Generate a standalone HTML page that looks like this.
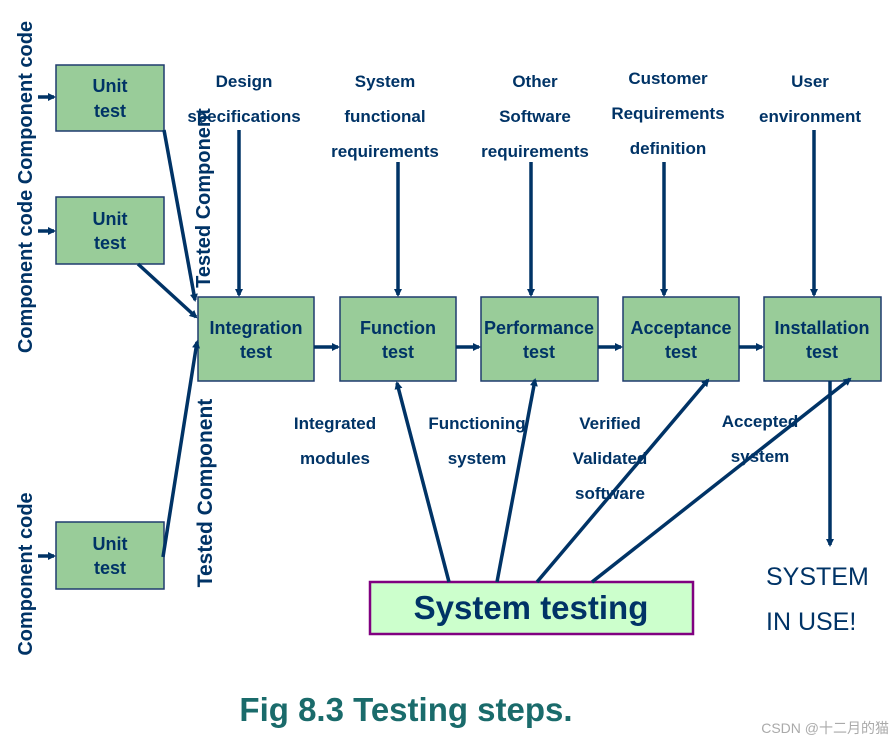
<!DOCTYPE html>
<html><head><meta charset="utf-8"><style>
body{margin:0;background:#fff;}
svg{display:block;font-family:"Liberation Sans",sans-serif;}
</style></head><body>
<svg width="894" height="742" viewBox="0 0 894 742" xmlns="http://www.w3.org/2000/svg">
<defs>
<marker id="a" markerWidth="8" markerHeight="8" refX="6" refY="4" orient="auto" markerUnits="userSpaceOnUse">
<path d="M0,0 L8,4 L0,8 z" fill="#003366"/></marker>
</defs>
<g fill="#99cc99" stroke="#1f3c6e" stroke-width="1.5">
<rect x="56" y="65" width="108" height="66"/>
<rect x="56" y="197" width="108" height="67"/>
<rect x="56" y="522" width="108" height="67"/>
<rect x="198" y="297" width="116" height="84"/>
<rect x="340" y="297" width="116" height="84"/>
<rect x="481" y="297" width="117" height="84"/>
<rect x="623" y="297" width="116" height="84"/>
<rect x="764" y="297" width="117" height="84"/>
</g>
<rect x="370" y="582" width="323" height="52" fill="#ccffcc" stroke="#800080" stroke-width="2.5"/>
<g stroke="#003366" stroke-width="3.5" fill="none" marker-end="url(#a)">
<line x1="38" y1="97" x2="54" y2="97"/>
<line x1="38" y1="231" x2="54" y2="231"/>
<line x1="38" y1="556" x2="54" y2="556"/>
<line x1="164" y1="130" x2="195" y2="300"/>
<line x1="138" y1="264" x2="196" y2="317"/>
<line x1="163" y1="557" x2="197" y2="342"/>
<line x1="239" y1="130" x2="239" y2="295"/>
<line x1="398" y1="162" x2="398" y2="295"/>
<line x1="531" y1="162" x2="531" y2="295"/>
<line x1="664" y1="162" x2="664" y2="295"/>
<line x1="814" y1="130" x2="814" y2="295"/>
<line x1="314" y1="347" x2="338" y2="347"/>
<line x1="456" y1="347" x2="479" y2="347"/>
<line x1="598" y1="347" x2="621" y2="347"/>
<line x1="739" y1="347" x2="762" y2="347"/>
<line x1="449" y1="582" x2="397" y2="383"/>
<line x1="497" y1="582" x2="535" y2="380"/>
<line x1="537" y1="582" x2="708" y2="380"/>
<line x1="592" y1="582" x2="850" y2="379"/>
<line x1="830" y1="381" x2="830" y2="545"/>
</g>
<g fill="#003366" font-weight="bold" font-size="18" text-anchor="middle">
<text x="110" y="92">Unit</text><text x="110" y="117">test</text>
<text x="110" y="225">Unit</text><text x="110" y="249">test</text>
<text x="110" y="550">Unit</text><text x="110" y="574">test</text>
<text x="256" y="334">Integration</text><text x="256" y="358">test</text>
<text x="398" y="334">Function</text><text x="398" y="358">test</text>
<text x="539" y="334">Performance</text><text x="539" y="358">test</text>
<text x="681" y="334">Acceptance</text><text x="681" y="358">test</text>
<text x="822" y="334">Installation</text><text x="822" y="358">test</text>
<g font-size="17">
<text x="244" y="87">Design</text><text x="244" y="122">specifications</text>
<text x="385" y="87">System</text><text x="385" y="122">functional</text><text x="385" y="157">requirements</text>
<text x="535" y="87">Other</text><text x="535" y="122">Software</text><text x="535" y="157">requirements</text>
<text x="668" y="84">Customer</text><text x="668" y="119">Requirements</text><text x="668" y="154">definition</text>
<text x="810" y="87">User</text><text x="810" y="122">environment</text>
<text x="335" y="429">Integrated</text><text x="335" y="464">modules</text>
<text x="477" y="429">Functioning</text><text x="477" y="464">system</text>
<text x="610" y="429">Verified</text><text x="610" y="464">Validated</text><text x="610" y="499">software</text>
<text x="760" y="427">Accepted</text><text x="760" y="462">system</text>
</g>
<text x="32" y="187" font-size="20" transform="rotate(-90 32 187)">Component code  Component code</text>
<text x="32" y="574" font-size="20" transform="rotate(-90 32 574)">Component code</text>
<text x="210" y="198" font-size="20" transform="rotate(-90 210 198)">Tested Component</text>
<text x="212" y="493" font-size="21" transform="rotate(-90 212 493)">Tested Component</text>
</g>
<g fill="#003366" font-size="25" text-anchor="start">
<text x="766" y="585">SYSTEM</text><text x="766" y="630">IN USE!</text>
</g>
<text x="531" y="619" fill="#003366" font-size="33" font-weight="bold" text-anchor="middle">System testing</text>
<text x="406" y="721" fill="#1a6b6b" font-size="33" font-weight="bold" text-anchor="middle">Fig 8.3 Testing steps.</text>
<text x="889" y="733" fill="#aaaaaa" font-size="14" text-anchor="end" font-family="'Liberation Sans','Noto Sans CJK SC',sans-serif">CSDN @十二月的猫</text>
</svg>
</body></html>
